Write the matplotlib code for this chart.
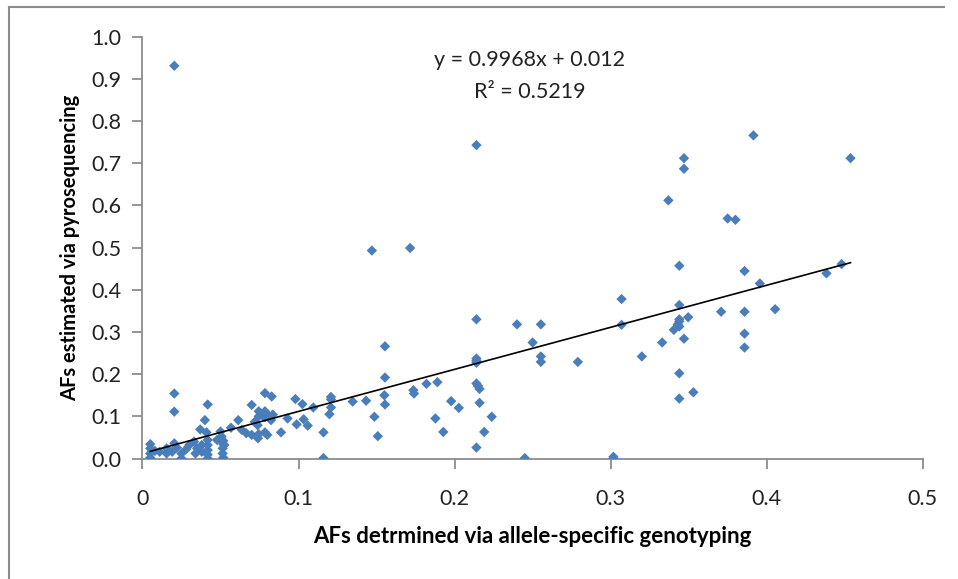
import matplotlib.pyplot as plt
import matplotlib.lines as mlines
import numpy as np

plt.rcParams['font.family'] = ['Lato', 'DejaVu Sans']

# allele frequencies: genotyping (x) vs pyrosequencing (y)
af_genotyping = [
    0.005, 0.005, 0.005, 0.005, 0.008, 0.011, 0.0155, 0.0155, 0.0204, 0.019,
    0.022, 0.025, 0.025, 0.028, 0.030, 0.033, 0.034, 0.035, 0.038, 0.038,
    0.0418, 0.0418, 0.0418, 0.0418, 0.0418, 0.0478, 0.0514, 0.0514, 0.0514, 0.0518,
    0.0204, 0.0204, 0.0204, 0.0418, 0.040, 0.037, 0.041,
    0.050, 0.0507, 0.0518, 0.0525,
    0.0567, 0.0614, 0.0636, 0.0665, 0.070, 0.070, 0.072, 0.0745, 0.074, 0.0738,
    0.0785, 0.080, 0.0785, 0.0828,
    0.0745, 0.0785, 0.076, 0.0785, 0.0745, 0.0775, 0.080, 0.0835, 0.0824, 0.0785,
    0.0888, 0.093, 0.098, 0.0988, 0.1025, 0.1033, 0.1059, 0.1095, 0.116, 0.116,
    0.1208, 0.1208, 0.1208, 0.1198, 0.1347, 0.1433, 0.147, 0.1486, 0.1508, 0.1554,
    0.1554, 0.155, 0.1554, 0.1715, 0.1736, 0.174, 0.182, 0.189, 0.1877, 0.1928,
    0.1978, 0.2027,
    0.214, 0.214, 0.214, 0.214, 0.214, 0.214, 0.215, 0.216, 0.216, 0.214,
    0.219, 0.2238,
    0.240, 0.245, 0.250, 0.2553, 0.2553, 0.2553, 0.279, 0.3018, 0.3018, 0.307,
    0.307, 0.320, 0.333, 0.337, 0.3405, 0.344, 0.344, 0.344, 0.344, 0.343,
    0.344, 0.344, 0.344, 0.347, 0.347, 0.347, 0.3497, 0.353, 0.3708, 0.375,
    0.380, 0.3858, 0.3858, 0.3858, 0.3858, 0.3915, 0.3956, 0.4054, 0.4383, 0.448,
    0.4537,
]
af_pyroseq = [
    0.034, 0.024, 0.012, 0.002, 0.018, 0.016, 0.024, 0.012, 0.036, 0.016,
    0.026, 0.012, 0.000, 0.022, 0.032, 0.040, 0.012, 0.024, 0.032, 0.016,
    0.044, 0.032, 0.020, 0.009, 0.000, 0.044, 0.036, 0.024, 0.012, 0.002,
    0.931, 0.154, 0.111, 0.128, 0.091, 0.069, 0.062,
    0.064, 0.052, 0.042, 0.032,
    0.073, 0.091, 0.068, 0.060, 0.127, 0.056, 0.087, 0.058, 0.048, 0.079,
    0.062, 0.056, 0.155, 0.147,
    0.112, 0.112, 0.106, 0.106, 0.100, 0.100, 0.104, 0.104, 0.091, 0.098,
    0.062, 0.095, 0.141, 0.081, 0.129, 0.093, 0.078, 0.121, 0.062, 0.001,
    0.146, 0.140, 0.121, 0.105, 0.135, 0.137, 0.493, 0.099, 0.053, 0.266,
    0.192, 0.150, 0.128, 0.499, 0.162, 0.154, 0.177, 0.181, 0.095, 0.063,
    0.136, 0.120,
    0.743, 0.330, 0.237, 0.232, 0.227, 0.178, 0.172, 0.165, 0.132, 0.026,
    0.063, 0.099,
    0.318, 0.001, 0.275, 0.318, 0.242, 0.229, 0.229, 0.004, 0.000, 0.378,
    0.317, 0.242, 0.275, 0.612, 0.305, 0.457, 0.364, 0.330, 0.325, 0.318,
    0.313, 0.202, 0.142, 0.712, 0.687, 0.284, 0.335, 0.157, 0.348, 0.569,
    0.566, 0.4445, 0.348, 0.296, 0.263, 0.766, 0.415, 0.354, 0.439, 0.461,
    0.712,
]

slope = 0.9968
intercept = 0.012
r_squared = 0.5219

x_ticks = [0, 0.1, 0.2, 0.3, 0.4, 0.5]
x_tick_labels = ['0', '0.1', '0.2', '0.3', '0.4', '0.5']
y_ticks = np.round(np.arange(0, 1.01, 0.1), 1)

fig = plt.figure(figsize=(9.58, 5.79), dpi=100)
ax = fig.add_axes([0.1487, 0.2081, 0.8145, 0.7285])

ax.scatter(af_genotyping, af_pyroseq, marker='D', s=28, color='#4a7ebb',
           edgecolors='none', zorder=3)

xs = np.array([min(af_genotyping), max(af_genotyping)])
ax.plot(xs, slope * xs + intercept, color='black', linewidth=1.2, zorder=4)

ax.set_xlim(0, 0.5)
ax.set_ylim(0, 1.0)
ax.set_xticks(x_ticks)
ax.set_xticklabels(x_tick_labels)
ax.set_yticks(y_ticks)
ax.set_yticklabels([f'{v:.1f}' for v in y_ticks])

for s in ['top', 'right']:
    ax.spines[s].set_visible(False)
for s in ['left', 'bottom']:
    ax.spines[s].set_color('#8c8c8c')
    ax.spines[s].set_linewidth(1.3)
ax.tick_params(axis='both', direction='out', length=7, width=1.3, color='#8c8c8c',
               labelsize=15.5, labelcolor='#222222')
ax.tick_params(axis='x', pad=15)
ax.tick_params(axis='y', pad=8)

ax.set_xlabel('AFs detrmined via allele-specific genotyping', fontsize=16,
              fontweight='bold', labelpad=12)
ax.set_ylabel('AFs estimated via pyrosequencing', fontsize=14.5,
              fontweight='bold', labelpad=8)

ax.text(0.248, 0.945, f'y = {slope}x + {intercept}', ha='center', va='center',
        fontsize=15.5, color='#222222')
ax.text(0.248, 0.869, f'R² = {r_squared}', ha='center', va='center',
        fontsize=15.5, color='#222222')

# chart area border (left and top edges visible in the reference)
fig.add_artist(mlines.Line2D([9 / 958, 9 / 958], [0, 1 - 7 / 579],
                             transform=fig.transFigure, color='#8c8c8c', linewidth=1.5))
fig.add_artist(mlines.Line2D([9 / 958, 944 / 958], [1 - 7 / 579, 1 - 7 / 579],
                             transform=fig.transFigure, color='#8c8c8c', linewidth=1.5))

plt.savefig('out.png', dpi=100)
